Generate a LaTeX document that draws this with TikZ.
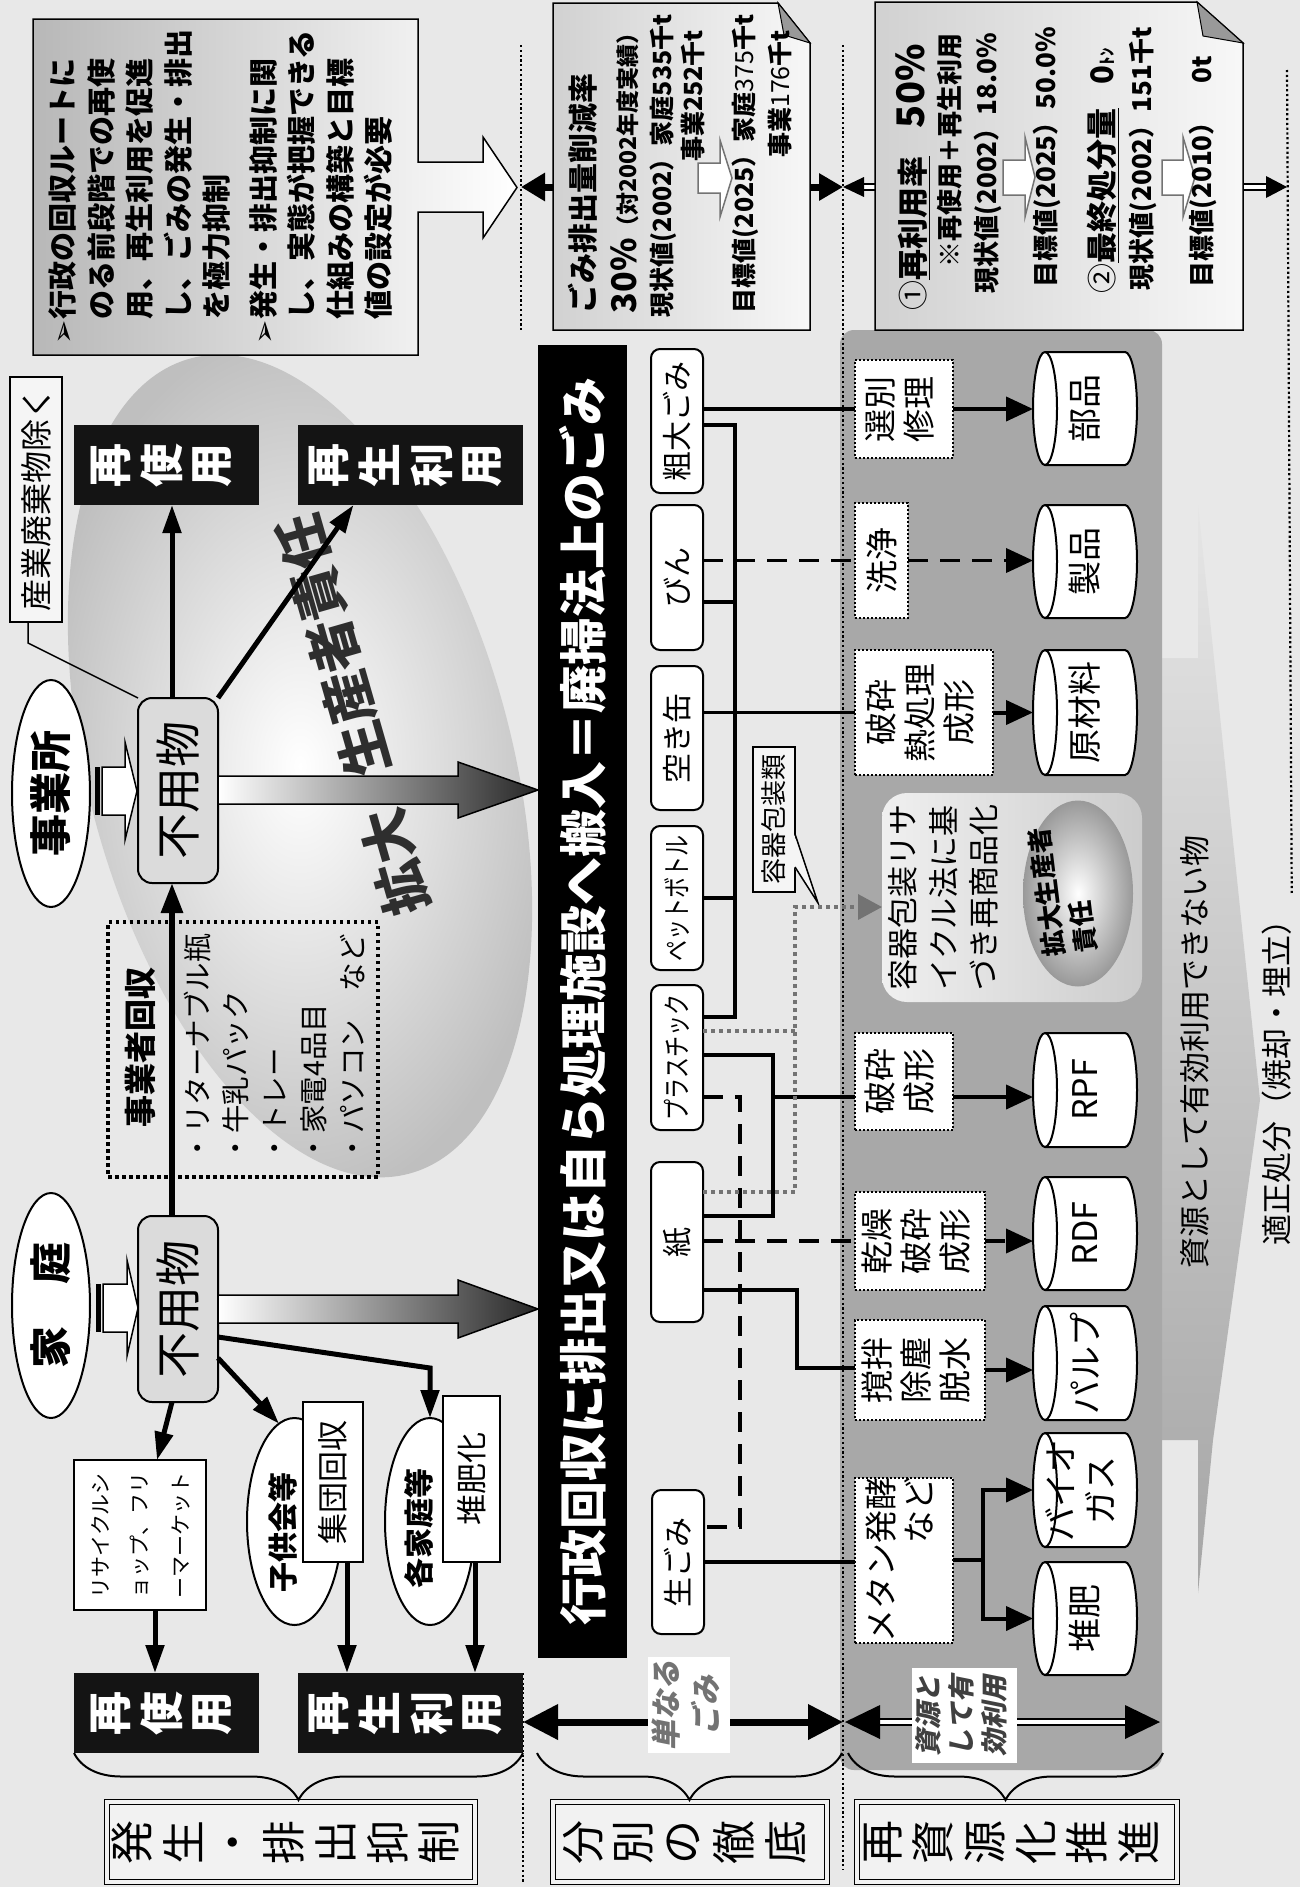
\documentclass[tikz,border=0pt]{standalone}
\usepackage{fontspec}
\setmainfont{Noto Sans CJK JP}
\newfontfamily\dv{DejaVu Sans}
\newfontfamily\jpsl{Noto Sans CJK JP}[FakeSlant=0.2]
\usepackage{graphicx}
\usetikzlibrary{arrows.meta,calc,shapes.geometric,decorations.pathreplacing}
\newcommand\fs[2]{\fontsize{#1pt}{#2pt}\selectfont}
\newcommand\rt[1]{\rotatebox{90}{#1}}
\newcommand\rtab[2]{\rotatebox{90}{\begin{tabular}{@{}#1@{}}#2\end{tabular}}}
\newcommand\tate[1]{\rotatebox{90}{\begin{tabular}{@{}c@{}}#1\end{tabular}}}
\newcommand\bul{{\dv\mdseries ➢}}
\newcommand\bulind{\hphantom{\bul}}
\newcommand\cyl[5]{%
  \draw[line width=2pt, fill=white] ({#2-40},{#3+#4/2}) -- ({#2+40},{#3+#4/2})
    arc[start angle=90,end angle=-90,x radius=12,y radius={#4/2}]
    -- ({#2-40},{#3-#4/2})
    arc[start angle=270,end angle=90,x radius=12,y radius={#4/2}] -- cycle;
  \draw[line width=2pt] ({#2-40},{#3+#4/2}) arc[start angle=90,end angle=-90,x radius=12,y radius={#4/2}];
  \node[minimum width=104, minimum height=#4, font=\fs{34}{40}] (#1) at (#2,#3) {#5};}
\begin{document}
\begin{tikzpicture}[x=1pt,y=1pt,
  every node/.style={inner sep=0pt, outer sep=0pt},
  ln/.style={line width=3.5pt},
  dsh/.style={line width=3.8pt, dash pattern=on 20pt off 12pt},
  gdot/.style={draw=black!55, line width=3.5pt, dash pattern=on 4pt off 4pt},
  dotl/.style={line width=2.2pt, dash pattern=on 2.2pt off 2.6pt},
  arrP/.style={line width=4pt, -{Triangle[length=27pt,width=24pt]}},
  arrL/.style={line width=5pt, -{Triangle[length=28pt,width=18pt]}},
  blk/.style={fill=black!92, text=white, font=\bfseries\fs{44}{48}},
  dbox/.style={draw, double=black!5, double distance=3.5pt, line width=1.4pt, fill=black!5, font=\fs{44}{49}},
  rbox/.style={draw, fill=white, rounded corners=9pt, line width=2pt, font=\fs{30}{36}},
  pbox/.style={draw, fill=white, line width=2pt, dash pattern=on 2pt off 2pt, font=\fs{33}{37}},
  wbox/.style={draw, fill=white, line width=2pt},
  fubox/.style={draw, fill=black!14, rounded corners=14pt, line width=2pt, font=\fs{46}{54}},
  oval/.style={ellipse, draw, fill=white, line width=2pt},
  brc/.style={line width=2pt, decorate, decoration={brace, amplitude=47pt, mirror}},
]
\useasboundingbox (0,0) rectangle (1300,-1887);
\fill[black!9] (0,0) rectangle (1300,-1887);

% big ellipse
\shade[inner color=white, outer color=black!25, rotate around={15:(300,-766)}] (300,-766) ellipse[x radius=212, y radius=422];
\node[rotate=106, font=\bfseries\fs{54}{58}, text=black!82] (kdt0) at (353,-715) {拡大\hspace{36pt}生産者責任};

% right wedge
\shade[top color=black!10, bottom color=black!35] (1162,-658) -- (1198,-658) -- (1198,-505) -- (1260,-1100) -- (1213,-1440) -- (1198,-1593) -- (1198,-1440) -- (1162,-1440) -- cycle;

% gray panel
\fill[black!34, rounded corners=14pt] (840,-330) rectangle (1162,-1770);

% dotted verticals
\draw[dotl] (521,-45) -- (521,-330);
\draw[dotl] (843,-45) -- (843,-1870);
\draw[dotl] (523,-1673) -- (523,-1882);

% top arrows
\coordinate (ta1) at (521,-187); \coordinate (ta2) at (843,-187); \coordinate (ta3) at (1287,-187);
\draw[line width=7pt, {Triangle[length=24pt,width=27pt]}-{Triangle[length=24pt,width=26pt]}] (ta1) -- (ta2);
\draw[line width=1.6pt, double, double distance=4pt] (860,-187) -- (1270,-187);
\fill (ta2) -- ++(21,10) -- ++(0,-20) -- cycle;
\fill (ta3) -- ++(-21,11) -- ++(0,-22) -- cycle;

% bottom arrows
\coordinate (ba1) at (523,-1722); \coordinate (ba2) at (843,-1722); \coordinate (ba3) at (1160,-1722);
\draw[line width=7pt, {Triangle[length=35pt,width=34pt]}-{Triangle[length=35pt,width=34pt]}] (ba1) -- (ba2);
\draw[line width=1.6pt, double, double distance=4pt] (870,-1722) -- (1130,-1722);
\fill (845,-1722) -- ++(35,17) -- ++(0,-34) -- cycle;
\fill (ba3) -- ++(-35,17) -- ++(0,-34) -- cycle;

% top-left callout
\shadedraw[left color=black!28, right color=white, line width=1.5pt] (33,-19) -- (418,-19) -- (418,-162) -- (483,-162) -- (483,-137) -- (517,-187.5) -- (483,-238) -- (483,-212) -- (418,-212) -- (418,-355) -- (33,-355) -- cycle;
\node[font=\bfseries\fs{29}{38.5}] (co) at (224,-187) {\rtab{l}{%
\bul 行政の回収ルートに\\
\bulind のる前段階での再使\\
\bulind 用、再生利用を促進\\
\bulind し、ごみの発生・排出\\
\bulind を極力抑制\\[8pt]
\bul 発生・排出抑制に関\\
\bulind し、実態が把握できる\\
\bulind 仕組みの構築と目標\\
\bulind 値の設定が必要}};

% 30% box
\shadedraw[left color=black!18, right color=black!3, line width=1.5pt] (553,-3) -- (778,-3) -- (810,-43) -- (810,-330) -- (553,-330) -- cycle;
\filldraw[fill=black!40, line width=1pt] (778,-3) -- (810,-43) -- (784,-35) -- cycle;
\node[anchor=south, font=\bfseries\fs{30}{36}] (a1) at (583,-313) {\rt{ごみ排出量削減率}};
\node[anchor=south, font=\bfseries] (a2) at (625,-313) {\rt{{\fs{34}{40}30\%}{\fs{23}{28}（対2002年度実績）}}};
\node[anchor=south, font=\bfseries\fs{25}{30}] (a3) at (663,-317) {\rt{現状値(2002）家庭535千t}};
\node[anchor=north, font=\bfseries\fs{25}{30}] (a4) at (693,-30) {\rt{事業252千t}};
\filldraw[fill=white, draw=black!55, line width=1.5pt] (698,-163) -- (720,-163) -- (720,-140) -- (732,-178) -- (720,-217) -- (720,-193) -- (698,-193) -- cycle;
\node[anchor=south, font=\bfseries\fs{25}{30}] (a5) at (745,-313) {\rt{目標値(2025）家庭{\mdseries 375}千t}};
\node[anchor=north, font=\bfseries\fs{25}{30}] (a6) at (780,-30) {\rt{事業{\mdseries 176}千t}};

% 50% box
\shadedraw[left color=black!18, right color=black!3, line width=1.5pt] (875,-2) -- (1197,-2) -- (1243,-43) -- (1243,-330) -- (875,-330) -- cycle;
\filldraw[fill=black!40, line width=1pt] (1197,-2) -- (1243,-43) -- (1203,-36) -- cycle;
\node[anchor=south] (b1) at (913,-310) {\rt{{\fs{30}{36}①}{\bfseries\fs{31}{36}\underline{再利用率}}\hspace{28pt}{\bfseries\fs{38}{44}50\%}}};
\node[anchor=north, font=\bfseries\fs{26}{31}] (b2) at (950,-33) {\rt{※再使用＋再生利用}};
\node[anchor=south, font=\bfseries\fs{26}{31}] (b3) at (988,-293) {\rt{現状値(2002）18.0\%}};
\filldraw[fill=white, draw=black!55, line width=1.5pt] (1003,-160) -- (1025,-160) -- (1025,-137) -- (1035,-177) -- (1025,-217) -- (1025,-195) -- (1003,-195) -- cycle;
\node[anchor=south, font=\bfseries\fs{26}{31}] (b4) at (1047,-287) {\rt{目標値(2025）50.0\%}};
\node[anchor=south] (b5) at (1103,-293) {\rt{{\fs{30}{36}②}{\bfseries\fs{31}{36}\underline{最終処分量}}\hspace{24pt}{\bfseries\fs{31}{36}0}{\bfseries\fs{17}{20}ﾄﾝ}}};
\node[anchor=south, font=\bfseries\fs{26}{31}] (b6) at (1143,-290) {\rt{現状値(2002）151千t}};
\filldraw[fill=white, draw=black!55, line width=1.5pt] (1162,-160) -- (1183,-160) -- (1183,-137) -- (1195,-177) -- (1183,-217) -- (1183,-195) -- (1162,-195) -- cycle;
\node[anchor=south, font=\bfseries\fs{26}{31}] (b7) at (1203,-287) {\rt{目標値(2010）\hspace{26pt}0t}};

% left nodes
\node[draw, fill=black!4, line width=1.5pt, minimum width=52, minimum height=245, font=\fs{32}{38}] (sg) at (36,-499.5) {\rt{産業廃棄物除く}};
\node[oval, minimum width=78, minimum height=227, font=\bfseries\fs{42}{50}] (jg) at (51,-793.5) {\rt{事業所}};
\node[oval, minimum width=78, minimum height=225, font=\bfseries\fs{42}{50}] (kt) at (51,-1305.5) {\rt{家　庭}};
\fill (95,-767) rectangle (100,-815);
\filldraw[fill=white, line width=1.5pt] (102,-767) -- (125,-767) -- (125,-742) -- (137,-791) -- (125,-840) -- (125,-815) -- (102,-815) -- cycle;
\fill (96,-1284) rectangle (101,-1332);
\filldraw[fill=white, line width=1.5pt] (103,-1284) -- (127,-1284) -- (127,-1260) -- (138,-1308) -- (127,-1356) -- (127,-1332) -- (103,-1332) -- cycle;
\node[fubox, minimum width=80, minimum height=185] (fj) at (178,-790.5) {\rt{不用物}};
\node[fubox, minimum width=80, minimum height=186] (fh) at (178,-1309) {\rt{不用物}};
\node[blk, minimum width=185, minimum height=80] (ru1) at (166.5,-465) {\tate{再\\使\\用}};
\node[blk, minimum width=225, minimum height=80] (sr1) at (410.5,-465) {\tate{再\\生\\利\\用}};
\node[blk, minimum width=185, minimum height=80] (ru2) at (166.5,-1713) {\tate{再\\使\\用}};
\node[blk, minimum width=225, minimum height=80] (sr2) at (410.5,-1713) {\tate{再\\生\\利\\用}};
\node[dbox, minimum width=368, minimum height=80] (gs) at (291,-1842) {\tate{発\\生\\・\\排\\出\\抑\\制}};
\node[dbox, minimum width=274, minimum height=80] (bt) at (690,-1842) {\tate{分\\別\\の\\徹\\底}};
\node[dbox, minimum width=320, minimum height=80] (sz) at (1017,-1842) {\tate{再\\資\\源\\化\\推\\進}};

% 事業者回収
\node[draw, line width=3.5pt, dash pattern=on 3.5pt off 3.5pt, minimum width=270, minimum height=255] (jk) at (243,-1049.5) {};
\node[anchor=south, font=\bfseries\fs{32}{38}] (jkt) at (140,-1127) {\rt{事業者回収}};
\node[anchor=south, font=\fs{28.5}{38.8}] (jkl) at (278,-1162) {\rtab{l}{・リターナブル瓶\\・牛乳パック\\・トレー\\・家電4品目\\・パソコン　など}};

% household lower
\node[wbox, minimum width=132, minimum height=150, font=\fs{21}{40}] (rs) at (140,-1535) {\rtab{l}{リサイクルシ\\ョップ、フリ\\ーマーケット}};
\node[oval, minimum width=95, minimum height=207] (kd) at (294.5,-1521.5) {};
\node[font=\bfseries\fs{30}{36}] (kdt) at (283,-1532) {\rt{子供会等}};
\node[wbox, minimum width=60, minimum height=160, font=\fs{31}{36}] (sk) at (333,-1482) {\rt{集団回収}};
\node[oval, minimum width=90, minimum height=207] (kk) at (430,-1521.5) {};
\node[font=\bfseries\fs{30}{36}] (kkt) at (419,-1528) {\rt{各家庭等}};
\node[wbox, minimum width=57, minimum height=166, font=\fs{31}{36}] (tb) at (471.5,-1479) {\rt{堆肥化}};

% banner
\node[fill=black, minimum width=89, minimum height=1313, text=white, font=\bfseries\fs{48}{56}] (bnr) at (582.5,-1001.5) {\rt{行政回収に排出又は自ら処理施設へ搬入＝廃掃法上のごみ}};

% gradient arrows
\shadedraw[left color=white, right color=black!85, line width=1.5pt] (fj.east |- 0,-776) -- (458,-776) -- (458,-762) -- (bnr.west |- 0,-790) -- (458,-818) -- (458,-804) -- (fj.east |- 0,-804) -- cycle;
\shadedraw[left color=white, right color=black!85, line width=1.5pt] (fh.east |- 0,-1295) -- (458,-1295) -- (458,-1280) -- (bnr.west |- 0,-1309) -- (458,-1338) -- (458,-1323) -- (fh.east |- 0,-1323) -- cycle;

% waste boxes
\node[rbox, minimum width=52, minimum height=144] (sd) at (677,-421) {\rt{粗大ごみ}};
\node[rbox, minimum width=52, minimum height=145] (bi) at (677,-577.5) {\rt{びん}};
\node[rbox, minimum width=52, minimum height=144] (ak) at (677,-738) {\rt{空き缶}};
\node[rbox, minimum width=52, minimum height=144, font=\fs{28}{34}] (pt) at (677,-898) {\rt{\scalebox{0.75}[1]{ペットボトル}}};
\node[rbox, minimum width=52, minimum height=145, font=\fs{28}{34}] (pl) at (677,-1057.5) {\rt{\scalebox{0.75}[1]{プラスチック}}};
\node[rbox, minimum width=52, minimum height=160] (km) at (677,-1242) {\rt{紙}};
\node[rbox, minimum width=52, minimum height=144] (ng) at (678,-1562) {\rt{生ごみ}};

% callout 容器包装類
\node[draw, fill=black!4, line width=1.5pt, minimum width=42, minimum height=145, font=\fs{26}{30}] (yk) at (774,-819.5) {\rt{容器包装類}};
\fill[black!4] (794,-834) -- (818,-903) -- (794,-867) -- cycle;
\draw[line width=1.5pt] (yk.east |- 0,-834) -- (818,-903) -- (yk.east |- 0,-867);

% process boxes
\node[pbox, minimum width=98, minimum height=98] (sb) at (904,-409) {\rtab{c}{選別\\修理}};
\node[pbox, minimum width=53, minimum height=115] (sj) at (881.5,-560.5) {\rt{洗浄}};
\node[pbox, minimum width=138, minimum height=125] (hn) at (924,-712.5) {\rtab{c}{破砕\\熱処理\\成形}};
\node[pbox, minimum width=98, minimum height=97] (hs) at (904,-1081.5) {\rtab{c}{破砕\\成形}};
\node[pbox, minimum width=130, minimum height=98] (kn) at (920,-1241) {\rtab{c}{乾燥\\破砕\\成形}};
\node[pbox, minimum width=130, minimum height=100] (kh) at (920,-1370) {\rtab{c}{撹拌\\除塵\\脱水}};
\node[pbox, minimum width=98, minimum height=156] (mt) at (904,-1560) {\rtab{r}{メタン発酵\\など}};

% 容器包装リサイクル法 box
\node[rounded corners=25pt, left color=black!6, right color=black!20, minimum width=260, minimum height=209] (yb) at (1012,-897.5) {};
\node[font=\fs{31}{40.5}] (ybt) at (947,-897) {\rtab{l}{容器包装リサ\\イクル法に基\\づき再商品化}};
\node[ellipse, inner color=white, outer color=black!40, minimum width=110, minimum height=186] (ke) at (1078,-893.5) {};
\node[rotate=97, font=\bfseries\fs{26}{32}] (ket) at (1066,-890) {\begin{tabular}{@{}l@{}}拡大生産者\\責任\end{tabular}};

% cylinders
\cyl{c1}{1085}{-408.5}{113}{\rt{部品}}
\cyl{c2}{1085}{-561.5}{113}{\rt{製品}}
\cyl{c3}{1085}{-712.5}{125}{\rt{原材料}}
\cyl{c4}{1085}{-1090}{114}{\rt{RPF}}
\cyl{c5}{1085}{-1233.5}{113}{\rt{RDF}}
\cyl{c6}{1085}{-1363}{114}{\rt{パルプ}}
\cyl{c7}{1085}{-1490}{114}{\rtab{c}{バイオ\\ガス}}
\cyl{c8}{1085}{-1618.5}{113}{\rt{堆肥}}

% right texts
\node[font=\fs{31}{36}] (rk) at (1195,-1052) {\rt{資源として有効利用できない物}};
\node[font=\fs{31}{36}] (tk) at (1277,-1075) {\rt{適正処分（焼却・埋立）}};
\draw[dotl] (1287,-70) -- (tk.east |- 0,-895);

% connectors: waste
\draw[ln] (sd.east |- sb.west) -- (sb.west);
\draw[ln] (sd.east |- 0,-425) -- (735,-425) -- (735,-1017) -- (pl.east |- 0,-1017);
\draw[ln] (bi.east |- 0,-602) -- (735,-602);
\draw[dsh] (bi.east |- sj.west) -- (sj.west);
\draw[ln] (ak.east |- hn.west) -- (hn.west);
\draw[ln] (pt.east |- 0,-898) -- (735,-898);
\draw[ln] (pl.east |- 0,-1055) -- (773,-1055) -- (773,-1216) -- (km.east |- 0,-1216);
\draw[ln] (773,-1097) -- (hs.west |- 0,-1097);
\draw[ln] (km.east |- 0,-1290) -- (797,-1290) -- (797,-1368) -- (kh.west |- 0,-1368);
\draw[dsh] (km.east |- kn.west) -- (kn.west);
\draw[dsh] (pl.east |- 0,-1097) -- (740,-1097) -- (740,-1527) -- (ng.east |- 0,-1527);
\draw[ln] (ng.east) -- (mt.west |- ng.east);
\draw[gdot] (pl.east |- 0,-1031) -- (795,-1031);
\draw[gdot, -{Triangle[length=24pt,width=25pt,fill=black!55]}] (km.east |- 0,-1192) -- (795,-1192) -- (795,-907) -- (yb.west |- 0,-907);

% process to products
\draw[arrP] (sb.east) -- (c1.west |- sb.east);
\draw[arrP, dsh] (sj.east) -- (c2.west |- sj.east);
\draw[arrP] (hn.east) -- (c3.west |- hn.east);
\draw[arrP] (hs.east |- 0,-1097) -- (c4.west |- 0,-1097);
\draw[arrP, dsh] (kn.east) -- (c5.west |- kn.east);
\draw[arrP] (kh.east) -- (c6.west |- kh.east);
\draw[ln] (mt.east) -- (983,-1560);
\draw[arrP] (983,-1560) |- (c7.west);
\draw[arrP] (983,-1560) |- (c8.west);

% left connectors
\draw[line width=1.5pt] ($(sg.south)+(-8,0)$) -- ++(0,-21) -- (fj.north west);
\draw[line width=6pt, -{Triangle[length=30pt,width=21pt]}] ($(fh.north)+(-6,0)$) -- ($(fj.south)+(-6,0)$);
\draw[arrL] ($(fj.north)+(-6,0)$) -- ($(ru1.south)+(5.5,0)$);
\draw[arrL] (fj.north east) -- ($(sr1.south)+(-57,0)$);
\draw[arrL] ($(fh.east)+(0,-49)$) -- (kd.99);
\draw[arrL] ($(fh.east)+(0,-28)$) -- ($(kk.north)+(0,50)$) -- (kk.north);
\draw[arrL] ($(fh.south)+(-6,0)$) -- ($(rs.north)+(17,0)$);
\draw[arrL] ($(rs.south)+(15,0)$) -- ($(ru2.north)+(-11.5,0)$);
\draw[arrL] ($(sk.south)+(14,0)$) -- ($(sr2.north)+(-63.5,0)$);
\draw[arrL] ($(tb.south)+(3.5,0)$) -- ($(sr2.north)+(64.5,0)$);

% labels on bottom arrows
\node[fill=white, minimum width=82, minimum height=96, font=\jpsl\bfseries\fs{30}{40}, text=black!55] (lb1) at (689,-1705) {\rtab{c}{単なる\\ごみ}};
\node[fill=white, minimum width=105, minimum height=95, font=\jpsl\bfseries\fs{27}{33}, text=black!75] (lb2) at (964.5,-1715.5) {\rtab{l}{資源と\\して有\\効利用}};

% braces
\draw[brc] (ru2.south west) -- (sr2.south east);
\draw[brc] (537,-1753) -- (842,-1753);
\draw[brc] (848,-1753) -- (1163,-1753);
\end{tikzpicture}
\end{document}
